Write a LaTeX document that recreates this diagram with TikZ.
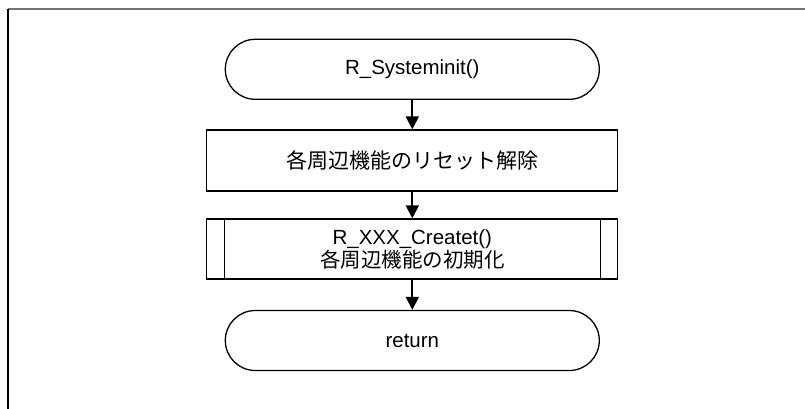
\documentclass[tikz,border=0pt]{standalone}
\usepackage{fontspec}
\setmainfont{Liberation Sans}
\newfontfamily\jp{Noto Sans CJK JP}
\usetikzlibrary{arrows.meta}
\begin{document}
\begin{tikzpicture}[x=1pt,y=-1pt,
  terminal/.style={draw=black,line width=1.3pt,rectangle,rounded corners=30pt,minimum width=374pt,minimum height=60pt,inner sep=0pt,align=center,font=\fontsize{20.5}{22}\selectfont},
  procbox/.style={draw=black,line width=1.3pt,rectangle,minimum width=411pt,minimum height=61pt,inner sep=0pt,align=center,font=\fontsize{20.5}{22}\selectfont},
  flowarrow/.style={line width=2pt,-{Triangle[length=13pt,width=13pt]}},
]
\useasboundingbox (0,0) rectangle (805,409);
\fill[white] (0,0) rectangle (805,409);
\coordinate (ftl) at (8,9.5);
\coordinate (ftr) at (805,9.5);
\coordinate (fbl) at (8,409);
\draw[gray!90!black,line width=2pt] (ftl) -- (ftr);
\draw[black,line width=2pt] (ftl) -- (fbl);

\node[terminal] (t1) at (412.3,69.3) {R\_Systeminit()};
\node[procbox] (b2) at (412.3,160.5) {{\jp\fontsize{21}{22}\selectfont 各周辺機能のリセット解除}};
\node[procbox,minimum height=60pt] (b3) at (412.3,249) {R\_XXX\_Createt()\\[1pt]{\jp\fontsize{20.5}{22}\selectfont 各周辺機能の初期化}};
\node[terminal] (t2) at (412.3,340.5) {return};

\draw[line width=1.3pt] ([xshift=18pt]b3.north west) -- ([xshift=18pt]b3.south west);
\draw[line width=1.3pt] ([xshift=-18pt]b3.north east) -- ([xshift=-18pt]b3.south east);

\draw[flowarrow] (t1) -- (b2);
\draw[flowarrow] (b2) -- (b3);
\draw[flowarrow] (b3) -- (t2);
\end{tikzpicture}
\end{document}
